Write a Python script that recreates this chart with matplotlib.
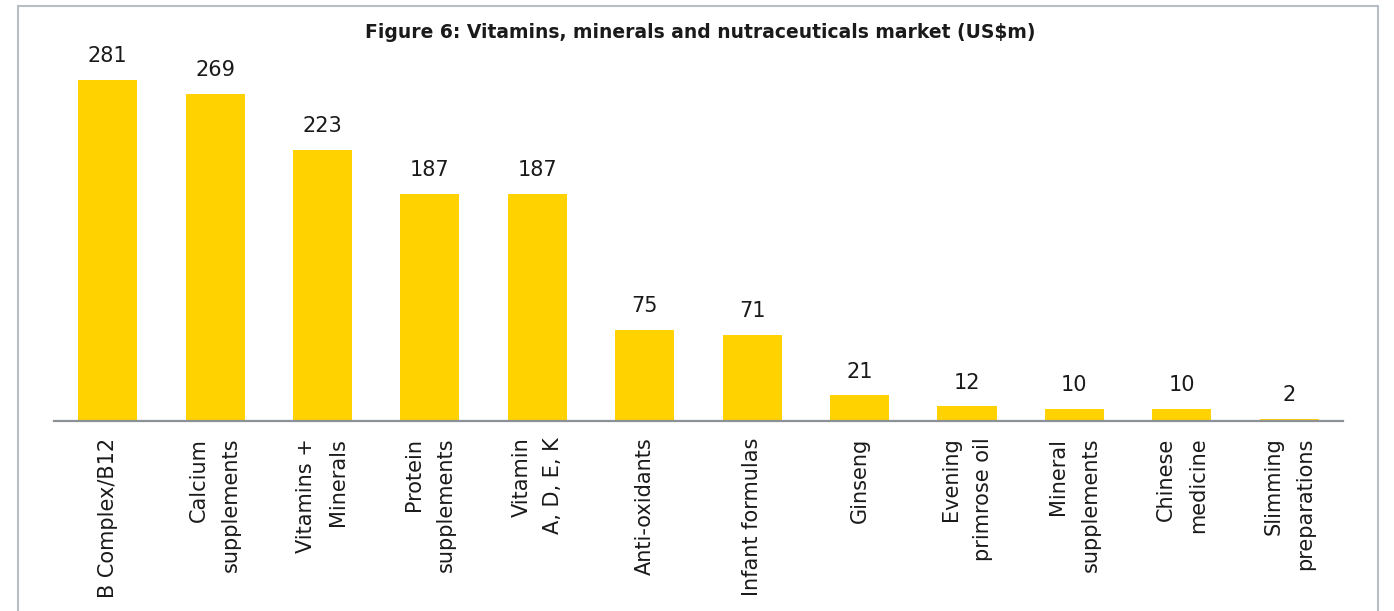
import matplotlib.pyplot as plt
from matplotlib.patches import Rectangle

categories = ['B Complex/B12', 'Calcium\nsupplements', 'Vitamins +\nMinerals',
              'Protein\nsupplements', 'Vitamin\nA, D, E, K', 'Anti-oxidants',
              'Infant formulas', 'Ginseng', 'Evening\nprimrose oil',
              'Mineral\nsupplements', 'Chinese\nmedicine', 'Slimming\npreparations']
values = [281, 269, 223, 187, 187, 75, 71, 21, 12, 10, 10, 2]

YELLOW = '#FFD200'
TEXT = '#1a1a1a'

fig = plt.figure(figsize=(13.94, 6.11), dpi=100)
ax = fig.add_axes([0.0387, 0.311, 0.9247, 0.658])

x = range(len(values))
bars = ax.bar(x, values, width=0.55, color=YELLOW, zorder=2)

for rect, v in zip(bars, values):
    ax.annotate(str(v), (rect.get_x() + rect.get_width() / 2, v),
                xytext=(0, 10), textcoords='offset points',
                ha='center', va='bottom', fontsize=15, color=TEXT)

ax.set_xlim(-0.5, len(values) - 0.5)
ax.set_ylim(0, 331)

for s in ['left', 'right', 'top']:
    ax.spines[s].set_visible(False)
ax.spines['bottom'].set_color('#8C9097')
ax.spines['bottom'].set_linewidth(1.6)
ax.set_yticks([])
ax.set_xticks(list(x))
ax.set_xticklabels(categories, rotation=90, ha='center', va='top',
                   multialignment='right', linespacing=1.75,
                   fontsize=15, color=TEXT)
ax.tick_params(axis='x', length=0, pad=12)

fig.text(0.502, 0.946, 'Figure 6: Vitamins, minerals and nutraceuticals market (US$m)',
         ha='center', va='center', fontsize=13.5, fontweight='bold', color=TEXT)

# light grey frame around the chart (bottom edge is outside the image)
frame = Rectangle((18 / 1394, -0.05), (1378 - 18) / 1394, 1.05 - 6 / 611,
                  transform=fig.transFigure, fill=False,
                  edgecolor='#B8BEC4', linewidth=1.5)
fig.patches.append(frame)

fig.savefig('out.png', dpi=100)
